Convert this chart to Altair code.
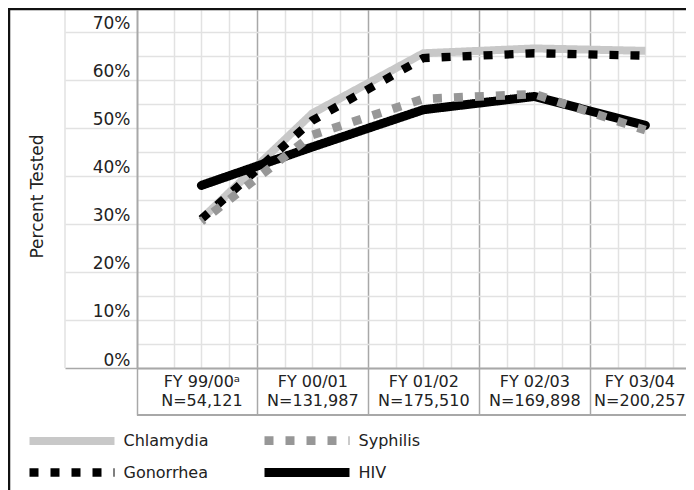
import json
import altair as alt
import pandas as pd

# ---- data ----
periods = ["FY 99/00ᵃ", "FY 00/01", "FY 01/02", "FY 02/03", "FY 03/04"]
sample_sizes = ["N=54,121", "N=131,987", "N=175,510", "N=169,898", "N=200,257"]
series_names = ["Chlamydia", "Gonorrhea", "Syphilis", "HIV"]
chlamydia = [31, 53, 65.5, 66.5, 66]
gonorrhea = [31, 51.5, 64.5, 65.5, 65]
syphilis = [30.5, 48.5, 56, 57, 49.5]
hiv = [38, 46, 53.75, 56.5, 50.5]
y_label_ticks = [0, 10, 20, 30, 40, 50, 60, 70]

series_values = {"Chlamydia": chlamydia, "Gonorrhea": gonorrhea,
                 "Syphilis": syphilis, "HIV": hiv}
rows = []
for name, vals in series_values.items():
    for i, v in enumerate(vals):
        rows.append({"series": name, "idx": i, "pct": v})
df = pd.DataFrame(rows)

# ---- layout / style ----
W, H = 549, 358
UNIT = 111.0
XMIN = -0.58
XMAX = XMIN + W / UNIT
YMAX = 74.5
FONT = "DejaVu Sans"
TXT = "#222222"
LIGHT = "#e2e2e2"
MID = "#a8a8a8"

colors = ["#c8c8c8", "#000000", "#979797", "#000000"]
dashes = [[1, 0], [9, 12], [9, 12], [1, 0]]
widths = [8, 9, 9, 9]
draw_order = ["Chlamydia", "HIV", "Gonorrhea", "Syphilis"]
caps = {"Chlamydia": "butt", "HIV": "round", "Gonorrhea": "butt", "Syphilis": "butt"}
dash_offsets = {"Chlamydia": 0, "HIV": 0, "Gonorrhea": 0, "Syphilis": 6}

major = [i + 0.5 for i in range(len(periods) - 1)]
label_pos = [i - 0.5 for i in range(len(periods))]
minor = [c + d for c in range(len(periods)) for d in (-0.25, 0, 0.25)]
x_values = sorted(set([XMIN] + label_pos + major + minor))
last_label = label_pos[-1]

labels_js = json.dumps([[p, n] for p, n in zip(periods, sample_sizes)], ensure_ascii=False)
major_test = f"indexof({json.dumps(major)}, datum.value) >= 0"
hidden_grid_test = f"datum.value == {XMIN} || datum.value == -0.5"
tick_test = f"datum.value == {XMIN} || {major_test}"

x_axis = alt.Axis(
    values=x_values, title=None, orient="bottom",
    domainColor=MID, domainWidth=2,
    grid=True,
    gridColor={"condition": {"test": major_test, "value": MID}, "value": LIGHT},
    gridOpacity={"condition": {"test": hidden_grid_test, "value": 0}, "value": 1},
    gridWidth=1.5,
    ticks=True, tickSize=47, tickColor=MID, tickWidth=1.5,
    tickOpacity={"condition": {"test": tick_test, "value": 1}, "value": 0},
    labelExpr=f"abs(datum.value % 1) == 0.5 ? {labels_js}[round(datum.value + 0.5)] : ''",
    labelOffset={"condition": {"test": f"datum.value == {last_label}", "value": UNIT / 2 - 6},
                 "value": UNIT / 2},
    labelPadding=-42, labelBaseline="top", labelAlign="center",
    labelLineHeight=19, labelFontSize=16, labelColor=TXT, labelFont=FONT,
    labelFlush=False, labelOverlap=False,
)

y_axis = alt.Axis(
    values=list(range(0, 75, 5)), title="Percent Tested",
    grid=True, gridColor=LIGHT, gridWidth=1.5,
    ticks=True, tickSize=72, tickWidth=1.5,
    tickColor={"condition": {"test": "datum.value == 0", "value": MID}, "value": LIGHT},
    tickOpacity={"condition": {"test": f"indexof({json.dumps(y_label_ticks)}, datum.value) >= 0", "value": 1}, "value": 0},
    labelExpr=f"indexof({json.dumps(y_label_ticks)}, datum.value) >= 0 ? datum.value + '%' : ''",
    labelPadding=-65, labelAlign="right", labelBaseline="alphabetic", labelOffset=-3,
    labelFontSize=17, labelColor=TXT, labelFont=FONT, labelOverlap=False,
    domainColor=MID, domainWidth=2,
    titleX=-91, titleY=186, titleAngle=270, titleAlign="center", titleBaseline="bottom",
    titleFontSize=17, titleFontWeight="normal", titleColor=TXT, titleFont=FONT,
)

x_enc = alt.X("idx:Q", scale=alt.Scale(domain=[XMIN, XMAX], nice=False, zero=False), axis=x_axis)
y_enc = alt.Y("pct:Q", scale=alt.Scale(domain=[0, YMAX], nice=False), axis=y_axis)

legend = alt.Legend(
    title=None, orient="none", legendX=-112, legendY=416, columns=2,
    symbolType="M-4.25,0H4.25", symbolSize=400, symbolOffset=32.5, labelOffset=37,
    columnPadding=37, rowPadding=-4, labelFontSize=16, labelColor=TXT, labelFont=FONT,
    labelLimit=200,
)
color_enc = alt.Color("series:N", scale=alt.Scale(domain=series_names, range=colors), legend=legend)
dash_enc = alt.StrokeDash("series:N", scale=alt.Scale(domain=series_names, range=dashes), legend=legend)
width_enc = alt.StrokeWidth("series:N", scale=alt.Scale(domain=series_names, range=widths), legend=legend)

one = pd.DataFrame({"k": [0]})
frame_left = alt.Chart(one).mark_rule(color="#111111", strokeWidth=2.5).encode(
    x=alt.value(-128), y=alt.value(-1), y2=alt.value(H + 130))
frame_top = alt.Chart(one).mark_rule(color="#111111", strokeWidth=2.5).encode(
    x=alt.value(-129), x2=alt.value(W + 5), y=alt.value(-1))
label_col = alt.Chart(one).mark_rule(color=LIGHT, strokeWidth=1.5).encode(
    x=alt.value(-72), y=alt.value(-1), y2=alt.value(H))
table_bottom = alt.Chart(one).mark_rule(color=MID, strokeWidth=2).encode(
    x=alt.value(0), x2=alt.value(W + 5), y=alt.value(H + 47))

lines = []
for name in draw_order:
    lines.append(
        alt.Chart(df).transform_filter(alt.datum.series == name).mark_line(
            strokeCap=caps[name], strokeDashOffset=dash_offsets[name]
        ).encode(x=x_enc, y=y_enc, color=color_enc, strokeDash=dash_enc, strokeWidth=width_enc)
    )

chart = alt.layer(label_col, table_bottom, *lines, frame_left, frame_top).properties(
    width=W, height=H,
    autosize=alt.AutoSizeParams(type="none"),
    padding={"left": 129, "top": 2, "right": 0, "bottom": 122},
).configure(font=FONT).configure_view(strokeWidth=0)

chart.save("out.html", embed_options={"renderer": "svg", "actions": False})
